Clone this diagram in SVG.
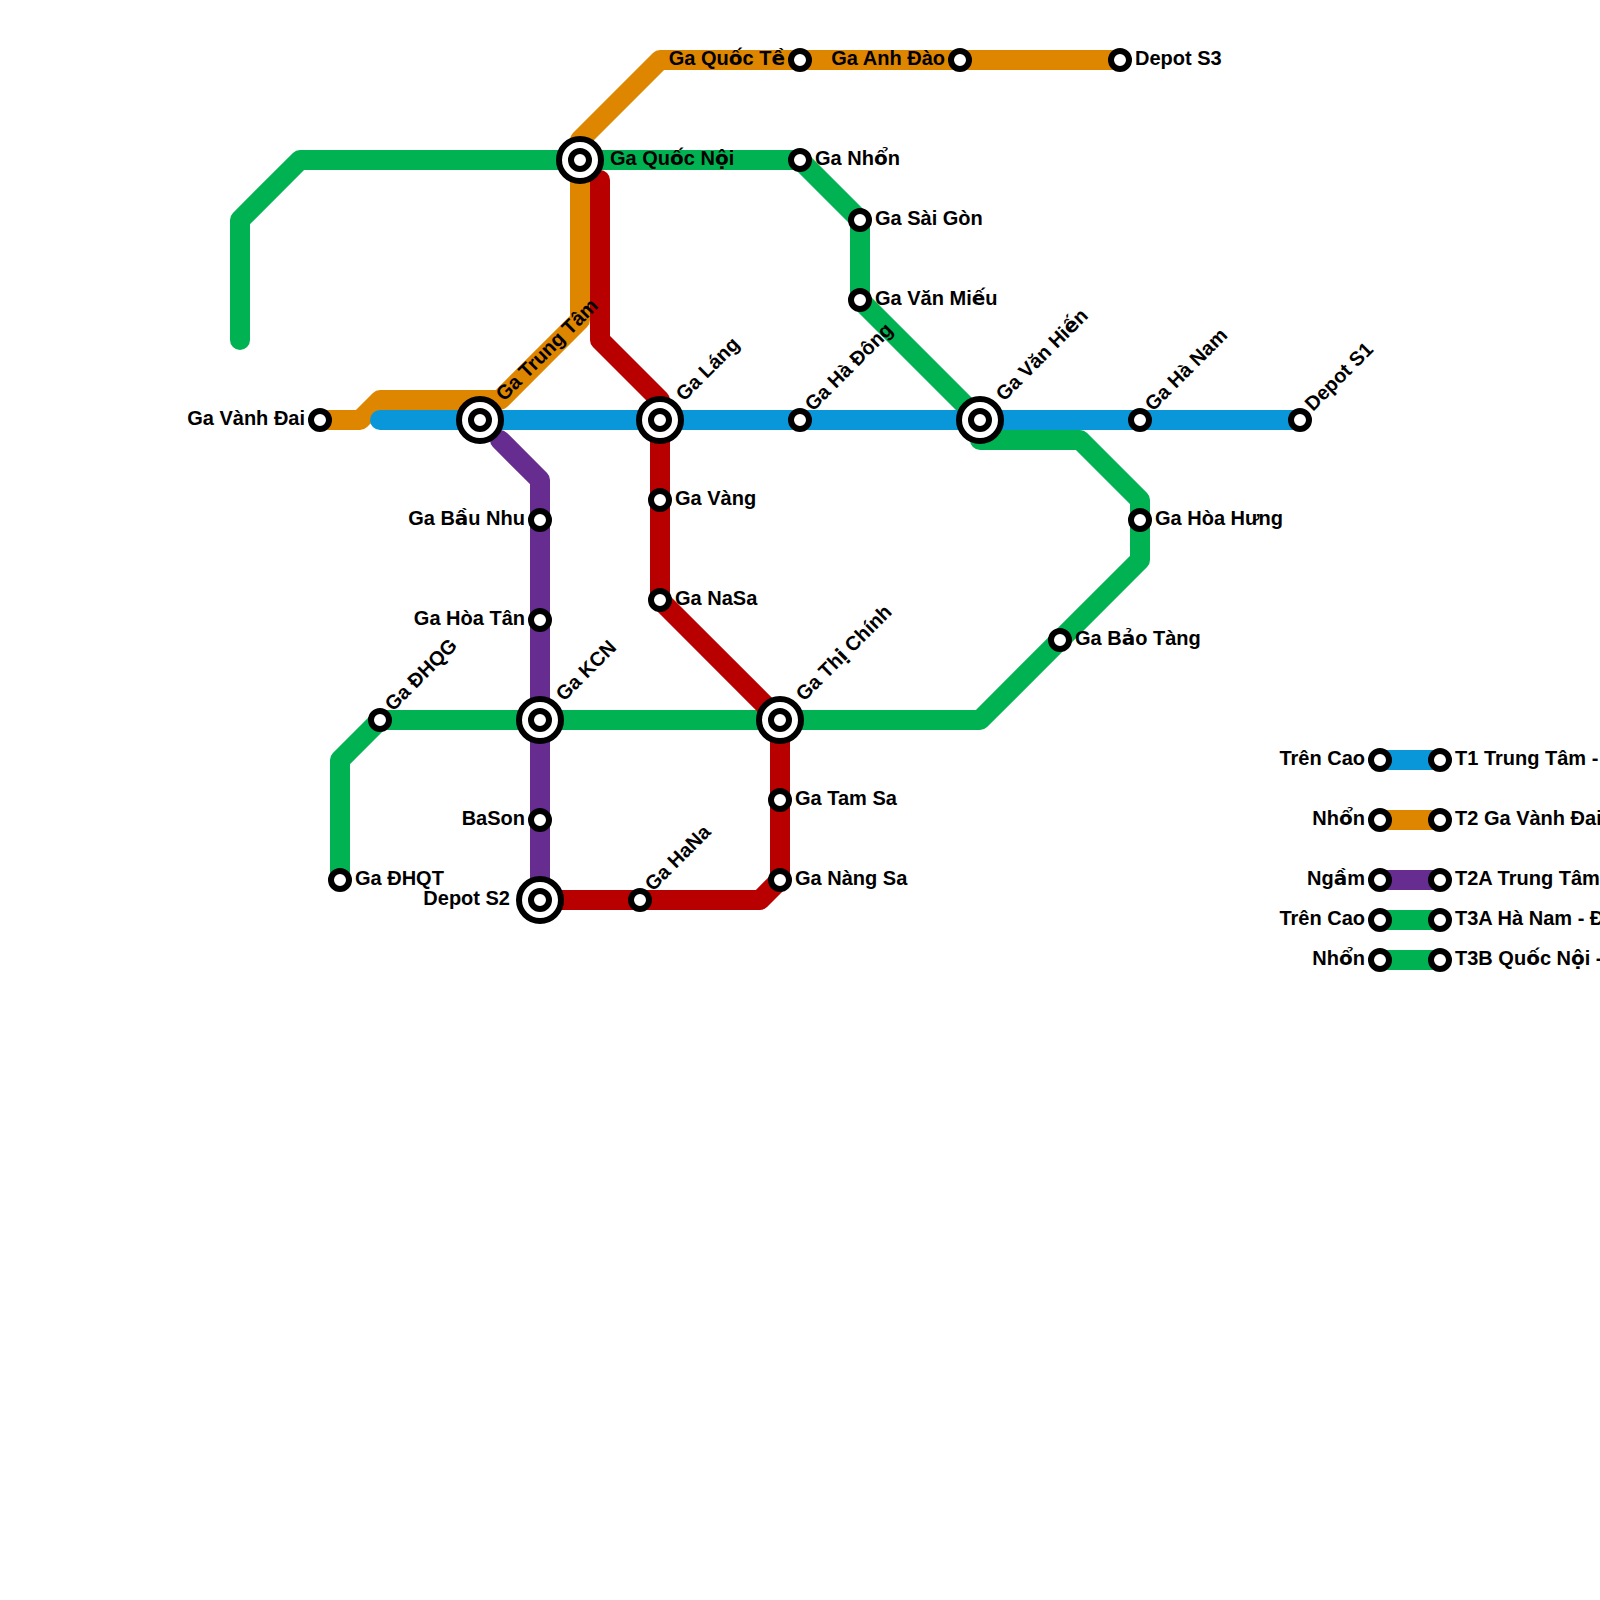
<svg xmlns="http://www.w3.org/2000/svg" width="1600" height="1600" viewBox="0 0 1600 1600">
<style>
.l{fill:none;stroke-width:20;stroke-linecap:round;stroke-linejoin:round}
.b{stroke:#0a97d9}.o{stroke:#df8600}.g{stroke:#00b251}.r{stroke:#b90000}.p{stroke:#662c90}
.s{fill:#fff;stroke:#000;stroke-width:6}
.x{fill:#fff;stroke:#000;stroke-width:6}
text{font-family:"Liberation Sans",Arial,sans-serif;font-weight:700;font-size:20px;fill:#000}
.f{font-family:"DejaVu Sans",sans-serif}
.e{text-anchor:end}
</style>
<defs>
<g id="st"><circle class="s" r="9"/></g>
<g id="ix"><circle class="x" r="21"/><circle class="s" r="9"/></g>
</defs>
<rect width="1600" height="1600" fill="#fff"/>
<g id="connectors">
<path class="l o" d="M320 420H360L380 400H500L580 320V140L660 60H1120"/>
<path class="l g" d="M240 340V220L300 160H800L860 220V300L980 420"/>
<path class="l g" d="M340 880V760L380 720H980L1140 560V500L1080 440H980"/>
<path class="l p" d="M500 440L540 480V900"/>
<path class="l r" d="M600 180V340L660 400V600L780 720V880L760 900H540"/>
<path class="l b" d="M380 420H1300"/>
<path class="l b" style="stroke-linecap:butt" d="M1380 760H1440"/>
<path class="l o" style="stroke-linecap:butt" d="M1380 820H1440"/>
<path class="l p" style="stroke-linecap:butt" d="M1380 880H1440"/>
<path class="l g" style="stroke-linecap:butt" d="M1380 920H1440"/>
<path class="l g" style="stroke-linecap:butt" d="M1380 960H1440"/>
</g>
<g id="n-vanh-dai"><use href="#st" x="320" y="420"/><text class="e" x="305" y="425">Ga Vành Đai</text></g>
<g id="n-trung-tam"><use href="#ix" x="480" y="420"/><text transform="translate(504 402) rotate(-45)">Ga Trung Tâm</text></g>
<g id="n-lang"><use href="#ix" x="660" y="420"/><text transform="translate(684 402) rotate(-45)">Ga Láng</text></g>
<g id="n-ha-dong"><use href="#st" x="800" y="420"/><text transform="translate(813 412) rotate(-45)">Ga Hà Đông</text></g>
<g id="n-van-hien"><use href="#ix" x="980" y="420"/><text transform="translate(1004 402) rotate(-45)">Ga Văn Hi<tspan class="f">ế</tspan>n</text></g>
<g id="n-ha-nam"><use href="#st" x="1140" y="420"/><text transform="translate(1153 412) rotate(-45)">Ga Hà Nam</text></g>
<g id="n-depot-s1"><use href="#st" x="1300" y="420"/><text transform="translate(1313 412) rotate(-45)">Depot S1</text></g>
<g id="n-quoc-noi"><use href="#ix" x="580" y="160"/><text x="610" y="165">Ga Qu<tspan class="f">ố</tspan>c N<tspan class="f">ộ</tspan>i</text></g>
<g id="n-nhon"><use href="#st" x="800" y="160"/><text x="815" y="165">Ga Nh<tspan class="f">ổ</tspan>n</text></g>
<g id="n-sai-gon"><use href="#st" x="860" y="220"/><text x="875" y="225">Ga Sài Gòn</text></g>
<g id="n-van-mieu"><use href="#st" x="860" y="300"/><text x="875" y="305">Ga Văn Mi<tspan class="f">ế</tspan>u</text></g>
<g id="n-quoc-te"><use href="#st" x="800" y="60"/><text class="e" x="785" y="65">Ga Qu<tspan class="f">ố</tspan>c T<tspan class="f">ề</tspan></text></g>
<g id="n-anh-dao"><use href="#st" x="960" y="60"/><text class="e" x="945" y="65">Ga Anh Đào</text></g>
<g id="n-depot-s3"><use href="#st" x="1120" y="60"/><text x="1135" y="65">Depot S3</text></g>
<g id="n-bau-nhu"><use href="#st" x="540" y="520"/><text class="e" x="525" y="525">Ga B<tspan class="f">ầ</tspan>u Nhu</text></g>
<g id="n-hoa-tan"><use href="#st" x="540" y="620"/><text class="e" x="525" y="625">Ga Hòa Tân</text></g>
<g id="n-kcn"><use href="#ix" x="540" y="720"/><text transform="translate(564 702) rotate(-45)">Ga KCN</text></g>
<g id="n-ba-son"><use href="#st" x="540" y="820"/><text class="e" x="525" y="825">BaSon</text></g>
<g id="n-depot-s2"><use href="#ix" x="540" y="900"/><text class="e" x="510" y="905">Depot S2</text></g>
<g id="n-hana"><use href="#st" x="640" y="900"/><text transform="translate(653 892) rotate(-45)">Ga HaNa</text></g>
<g id="n-vang"><use href="#st" x="660" y="500"/><text x="675" y="505">Ga Vàng</text></g>
<g id="n-nasa"><use href="#st" x="660" y="600"/><text x="675" y="605">Ga NaSa</text></g>
<g id="n-thi-chinh"><use href="#ix" x="780" y="720"/><text transform="translate(804 702) rotate(-45)">Ga Th<tspan class="f">ị</tspan> Chính</text></g>
<g id="n-tam-sa"><use href="#st" x="780" y="800"/><text x="795" y="805">Ga Tam Sa</text></g>
<g id="n-nang-sa"><use href="#st" x="780" y="880"/><text x="795" y="885">Ga Nàng Sa</text></g>
<g id="n-dhqg"><use href="#st" x="380" y="720"/><text transform="translate(393 712) rotate(-45)">Ga ĐHQG</text></g>
<g id="n-dhqt"><use href="#st" x="340" y="880"/><text x="355" y="885">Ga ĐHQT</text></g>
<g id="n-hoa-hung"><use href="#st" x="1140" y="520"/><text x="1155" y="525">Ga Hòa Hư<tspan dx="-1">n</tspan>g</text></g>
<g id="n-bao-tang"><use href="#st" x="1060" y="640"/><text x="1075" y="645">Ga B<tspan class="f">ả</tspan>o Tàng</text></g>
<g id="legend-t1"><use href="#st" x="1380" y="760"/><use href="#st" x="1440" y="760"/><text class="e" x="1365" y="765">Trên Cao</text><text x="1455" y="765">T1 Trung Tâm -</text></g>
<g id="legend-t2"><use href="#st" x="1380" y="820"/><use href="#st" x="1440" y="820"/><text class="e" x="1365" y="825">Nh<tspan class="f">ổ</tspan>n</text><text x="1455" y="825">T2 Ga Vành Đai</text></g>
<g id="legend-t2a"><use href="#st" x="1380" y="880"/><use href="#st" x="1440" y="880"/><text class="e" x="1365" y="885">Ng<tspan class="f">ầ</tspan>m</text><text x="1455" y="885">T2A Trung Tâm</text></g>
<g id="legend-t3a"><use href="#st" x="1380" y="920"/><use href="#st" x="1440" y="920"/><text class="e" x="1365" y="925">Trên Cao</text><text x="1455" y="925">T3A Hà Nam - Đ</text></g>
<g id="legend-t3b"><use href="#st" x="1380" y="960"/><use href="#st" x="1440" y="960"/><text class="e" x="1365" y="965">Nh<tspan class="f">ổ</tspan>n</text><text x="1455" y="965">T3B Qu<tspan class="f">ố</tspan>c N<tspan class="f">ộ</tspan>i -</text></g>
</svg>
